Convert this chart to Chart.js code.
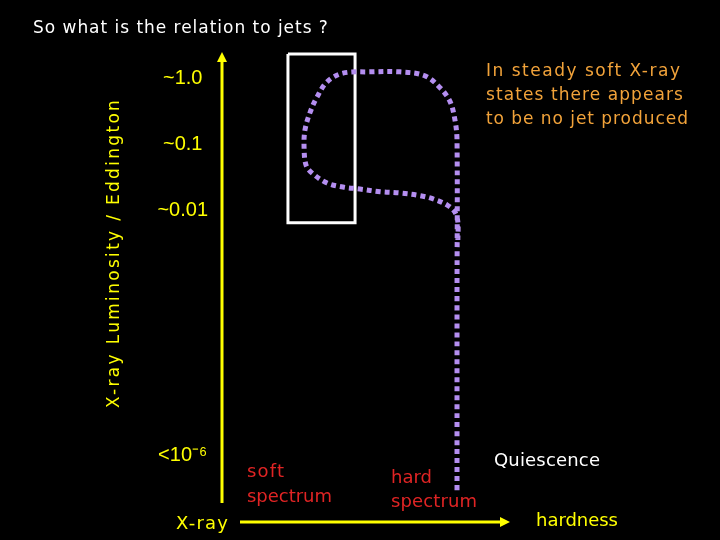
<!DOCTYPE html>
<html>
<head>
<meta charset="utf-8">
<script src="https://cdn.jsdelivr.net/npm/chart.js@4"></script>
<style>
  html, body { margin: 0; padding: 0; background: #000; }
  canvas { display: block; }
</style>
</head>
<body>
<canvas id="hid" width="720" height="540"></canvas>
<script>
// y is log10(L / L_Edd), x is a 0..1 hardness
const tickValues = [0, -1, -2, -5.7];
const tickLabels = ["~1.0", "~0.1", "~0.01", "<10\u207B\u2076"];

// the dotted track of an outburst
const pathHardness = [0.816, 0.816, 0.816, 0.809, 0.792, 0.757, 0.705, 0.618, 0.514, 0.420, 0.365, 0.330,
  0.306, 0.288, 0.285, 0.292, 0.313, 0.365, 0.420, 0.479, 0.549, 0.618, 0.688, 0.733, 0.781, 0.809, 0.819, 0.819];
const pathLogL = [-6.22, -3.35, -0.93, -0.63, -0.35, -0.14, 0.04, 0.10, 0.10, 0.08, -0.05, -0.28,
  -0.51, -0.78, -1.05, -1.31, -1.43, -1.58, -1.64, -1.67, -1.71, -1.73, -1.77, -1.82, -1.91, -2.02, -2.17, -2.44];

// the "jet line" box
const boxHardness = [0.229, 0.462, 0.462, 0.229, 0.229];
const boxLogL = [0.37, 0.37, -2.18, -2.18, 0.37];

function toPoints(xs, ys) {
  return xs.map((x, i) => ({ x: x, y: ys[i] }));
}

// comic sans is not there, so stretch DejaVu to the same width
function fitText(ctx, text, x, y, size, width) {
  ctx.font = size + "px 'DejaVu Sans', sans-serif";
  ctx.letterSpacing = "0px";
  const w = ctx.measureText(text).width;
  ctx.letterSpacing = ((width - w) / (text.length - 1)).toFixed(2) + "px";
  ctx.fillText(text, x, y);
  ctx.letterSpacing = "0px";
}

function arrow(ctx, x1, y1, x2, y2) {
  const a = Math.atan2(y2 - y1, x2 - x1);
  ctx.beginPath();
  ctx.moveTo(x1, y1);
  ctx.lineTo(x2 - 6 * Math.cos(a), y2 - 6 * Math.sin(a));
  ctx.stroke();
  ctx.beginPath();
  ctx.moveTo(x2, y2);
  ctx.lineTo(x2 - 10 * Math.cos(a) + 5 * Math.sin(a), y2 - 10 * Math.sin(a) - 5 * Math.cos(a));
  ctx.lineTo(x2 - 10 * Math.cos(a) - 5 * Math.sin(a), y2 - 10 * Math.sin(a) + 5 * Math.cos(a));
  ctx.closePath();
  ctx.fill();
}

const slideBits = {
  id: "slideBits",
  beforeDraw(chart) {
    const ctx = chart.ctx;
    ctx.save();
    ctx.fillStyle = "#000";
    ctx.fillRect(0, 0, chart.width, chart.height);
    ctx.restore();
  },
  afterDraw(chart) {
    const ctx = chart.ctx;
    const a = chart.chartArea;
    ctx.save();
    // axes
    ctx.strokeStyle = "#ffff00";
    ctx.fillStyle = "#ffff00";
    ctx.lineWidth = 3;
    arrow(ctx, a.left, 503, a.left, a.top);
    arrow(ctx, a.left + 18, a.bottom, a.right, a.bottom);

    ctx.textBaseline = "middle";
    ctx.textAlign = "left";
    ctx.fillStyle = "#ffffff";
    fitText(ctx, "So what is the relation to jets ?", 33, 29, 17, 295);
    fitText(ctx, "Quiescence", 494, 461, 18, 106);

    ctx.fillStyle = "#ffff00";
    fitText(ctx, "hardness", 536, 521, 18, 82);
    fitText(ctx, "X-ray", 176, 524, 18, 52);

    ctx.fillStyle = "#e02424";
    fitText(ctx, "soft", 247, 472, 18, 37);
    fitText(ctx, "spectrum", 247, 497, 18, 85);
    fitText(ctx, "hard", 391, 478, 18, 41);
    fitText(ctx, "spectrum", 391, 502, 18, 86);

    ctx.fillStyle = "#f2a33a";
    fitText(ctx, "In steady soft X-ray", 486, 72, 17, 194);
    fitText(ctx, "states there appears", 486, 96, 17, 197);
    fitText(ctx, "to be no jet produced", 486, 120, 17, 202);

    // y title
    ctx.translate(115, 254);
    ctx.rotate(-Math.PI / 2);
    ctx.textAlign = "left";
    ctx.fillStyle = "#ffff00";
    fitText(ctx, "X-ray Luminosity / Eddington", -154, 0, 17, 308);
    ctx.restore();
  }
};

new Chart(document.getElementById("hid"), {
  type: "scatter",
  data: {
    datasets: [{
      label: "track",
      data: toPoints(pathHardness, pathLogL),
      showLine: true,
      tension: 0.35,
      borderColor: "#b48ef0",
      borderWidth: 5,
      borderDash: [5, 4],
      borderCapStyle: "butt",
      pointRadius: 0,
      clip: false
    }, {
      label: "box",
      data: toPoints(boxHardness, boxLogL),
      showLine: true,
      borderColor: "#ffffff",
      borderWidth: 3,
      pointRadius: 0,
      clip: false
    }]
  },
  options: {
    responsive: false,
    animation: false,
    layout: { padding: { left: 158, top: 52, right: 210, bottom: 18 } },
    plugins: { legend: { display: false }, tooltip: { enabled: false } },
    scales: {
      x: { type: "linear", min: 0, max: 1, display: false },
      y: {
        type: "linear",
        min: -6.7,
        max: 0.4,
        afterFit(scale) {
          scale.width = 64;
          scale.paddingTop = 0;
          scale.paddingBottom = 0;
        },
        afterBuildTicks(scale) { scale.ticks = tickValues.map(v => ({ value: v })); },
        grid: { display: false, drawTicks: false },
        border: { display: false },
        ticks: {
          color: "#ffff00",
          padding: 14,
          crossAlign: "center",
          font: { family: "'Liberation Sans', Arial, sans-serif", size: 20 },
          callback: (v) => tickLabels[tickValues.indexOf(v)]
        }
      }
    }
  },
  plugins: [slideBits]
});
</script>
</body>
</html>
